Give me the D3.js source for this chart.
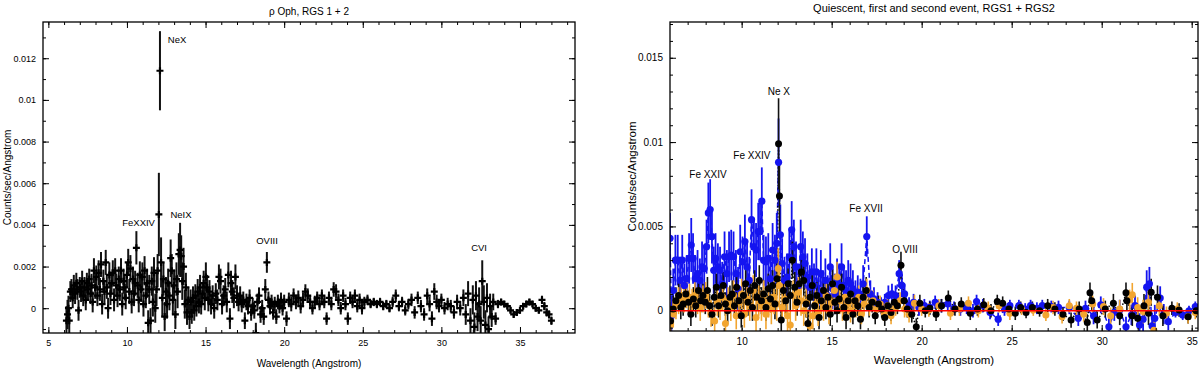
<!DOCTYPE html>
<html>
<head>
<meta charset="utf-8">
<script src="https://cdn.jsdelivr.net/npm/d3@7"></script>
<style>
body { margin: 0; background: #fff; }
svg { display: block; font-family: "Liberation Sans", Arial, sans-serif; }
</style>
</head>
<body>
<svg id="chart" width="1200" height="371"></svg>
<script>
// all fluxes in units of 1e-3 counts/sec/Angstrom, rows are [wavelength, flux, error]
var rhoOphSpectrum = [
    [6.15,-0.6,0.7],[6.22,-0.3,0.7],[6.28,0.0,0.6],[6.33,-0.6,0.6],[6.40,0.8,0.5],[6.47,0.9,0.5],
    [6.55,0.5,0.5],[6.62,1.1,0.5],[6.70,0.7,0.5],[6.78,1.2,0.5],[6.85,0.9,0.5],[6.92,-0.1,0.5],
    [7.00,1.0,0.5],[7.08,0.8,0.5],[7.15,1.3,0.5],[7.22,0.6,0.5],[7.30,1.0,0.5],[7.38,0.4,0.5],
    [7.45,1.2,0.5],[7.52,0.9,0.5],[7.60,1.4,0.5],[7.68,0.7,0.5],[7.75,1.1,0.55],[7.82,0.3,0.5],
    [7.90,1.8,0.6],[7.98,1.0,0.55],[8.05,1.5,0.55],[8.12,0.6,0.5],[8.20,1.7,0.6],[8.28,0.9,0.55],
    [8.35,2.1,0.6],[8.42,0.2,0.5],[8.50,1.3,0.55],[8.57,0.8,0.55],[8.65,2.2,0.6],[8.72,1.0,0.55],
    [8.80,0.0,0.5],[8.88,1.6,0.6],[8.95,0.7,0.55],[9.02,1.2,0.55],[9.10,1.7,0.6],[9.18,0.4,0.55],
    [9.25,1.8,0.6],[9.32,1.1,0.55],[9.40,0.6,0.55],[9.48,1.4,0.6],[9.55,0.9,0.55],[9.62,1.8,0.6],
    [9.70,0.2,0.55],[9.78,1.3,0.6],[9.85,1.0,0.6],[9.92,0.5,0.55],[10.00,1.6,0.6],[10.08,2.2,0.65],
    [10.15,0.8,0.6],[10.22,1.9,0.65],[10.30,0.3,0.55],[10.38,1.4,0.6],[10.45,0.7,0.6],[10.52,1.2,0.6],
    [10.60,2.9,0.8],[10.68,1.1,0.6],[10.75,0.4,0.6],[10.82,1.6,0.65],[10.90,0.9,0.6],[10.98,1.5,0.7],
    [11.05,0.2,0.6],[11.12,1.8,0.7],[11.20,0.6,0.6],[11.28,1.2,0.7],[11.35,-0.7,0.6],[11.42,0.9,0.7],
    [11.50,-0.6,0.6],[11.58,1.3,0.7],[11.65,0.3,0.7],[11.72,1.7,0.75],[11.80,0.0,0.7],[11.88,0.9,0.8],
    [11.95,1.8,0.8],[12.03,4.5,2.0],[12.10,11.4,1.9],[12.17,2.2,1.2],[12.25,0.5,0.9],[12.32,1.4,0.8],
    [12.40,-0.4,0.7],[12.48,0.8,0.7],[12.55,0.2,0.7],[12.62,1.2,0.7],[12.70,0.6,0.7],[12.78,2.4,0.9],
    [12.85,1.8,0.8],[12.92,0.4,0.7],[13.00,1.1,0.75],[13.08,-0.3,0.7],[13.15,1.4,0.8],[13.22,0.8,0.8],
    [13.30,2.6,1.0],[13.38,2.8,1.3],[13.45,2.5,1.0],[13.52,1.3,0.9],[13.60,2.0,0.9],[13.68,0.2,0.7],
    [13.75,1.0,0.7],[13.82,-0.2,0.6],[13.90,0.4,0.6],[13.98,-0.4,0.6],[14.05,0.3,0.6],[14.12,-0.2,0.55],
    [14.20,0.5,0.55],[14.28,-0.1,0.5],[14.35,0.6,0.55],[14.42,0.1,0.5],[14.50,0.8,0.6],[14.58,0.3,0.55],
    [14.65,1.0,0.6],[14.72,0.2,0.5],[14.80,0.7,0.55],[14.88,1.2,0.6],[14.95,0.5,0.6],[15.02,1.5,0.7],
    [15.10,1.0,0.6],[15.18,0.4,0.55],[15.25,0.8,0.55],[15.35,0.2,0.5],[15.45,0.6,0.5],[15.55,0.0,0.5],
    [15.65,0.7,0.5],[15.75,0.4,0.5],[15.85,1.5,0.6],[15.95,1.3,0.6],[16.05,0.2,0.5],[16.15,0.6,0.5],
    [16.25,0.9,0.55],[16.35,0.3,0.5],[16.45,1.6,0.6],[16.55,-0.5,0.5],[16.62,1.2,0.6],[16.70,0.8,0.55],
    [16.80,0.5,0.5],[16.90,1.5,0.6],[17.00,0.6,0.5],[17.10,0.3,0.45],[17.20,0.6,0.45],[17.30,0.2,0.4],
    [17.40,0.4,0.4],[17.50,-0.6,0.4],[17.60,0.3,0.4],[17.70,0.1,0.4],[17.80,0.5,0.4],[17.90,-0.2,0.4],
    [18.00,0.1,0.4],[18.10,-0.1,0.4],[18.20,-1.2,0.5],[18.30,0.3,0.4],[18.40,0.6,0.4],[18.50,-0.3,0.4],
    [18.60,0.0,0.4],[18.70,-0.4,0.4],[18.80,0.9,0.5],[18.90,2.2,0.5],[19.00,0.4,0.4],[19.10,0.1,0.4],
    [19.20,0.3,0.35],[19.30,-0.2,0.35],[19.40,0.2,0.35],[19.50,-0.4,0.35],[19.60,0.3,0.35],[19.70,0.1,0.35],
    [19.80,0.4,0.35],[19.90,0.0,0.35],[20.00,0.3,0.35],[20.15,-0.5,0.35],[20.30,0.4,0.35],[20.45,0.2,0.35],
    [20.60,0.6,0.35],[20.75,0.3,0.35],[20.90,0.5,0.35],[21.05,0.1,0.35],[21.20,0.4,0.35],[21.35,0.8,0.35],
    [21.50,0.6,0.35],[21.65,0.3,0.3],[21.80,0.0,0.3],[21.95,0.3,0.3],[22.10,0.5,0.3],[22.25,0.2,0.3],
    [22.40,0.6,0.3],[22.55,0.3,0.3],[22.70,-0.5,0.3],[22.85,0.5,0.3],[23.00,0.2,0.3],[23.15,0.9,0.35],
    [23.30,0.8,0.35],[23.45,0.4,0.3],[23.60,0.0,0.3],[23.75,0.6,0.3],[23.90,0.2,0.3],[24.05,-0.5,0.3],
    [24.20,0.5,0.3],[24.35,0.3,0.3],[24.50,0.6,0.3],[24.65,0.1,0.3],[24.80,0.4,0.3],[24.95,0.0,0.3],
    [25.10,0.3,0.25],[25.30,0.4,0.25],[25.50,0.2,0.2],[25.70,0.3,0.2],[25.90,0.2,0.2],[26.10,0.3,0.2],
    [26.30,0.1,0.2],[26.50,0.2,0.2],[26.70,0.0,0.2],[26.90,0.3,0.25],[27.10,0.6,0.3],[27.30,0.1,0.25],
    [27.50,0.3,0.25],[27.70,-0.1,0.25],[27.90,0.2,0.25],[28.10,0.4,0.3],[28.30,-0.2,0.3],[28.50,0.5,0.3],
    [28.70,0.1,0.3],[28.90,-0.3,0.3],[29.10,0.6,0.35],[29.25,0.2,0.35],[29.40,-0.5,0.35],[29.55,0.8,0.4],
    [29.70,0.3,0.35],[29.85,0.1,0.3],[30.00,0.4,0.3],[30.20,0.0,0.3],[30.40,0.2,0.3],[30.60,0.1,0.3],
    [30.80,-0.2,0.3],[31.00,0.3,0.35],[31.20,0.0,0.35],[31.40,0.5,0.4],[31.55,-0.3,0.5],[31.70,0.7,0.6],
    [31.85,-0.6,0.6],[32.00,0.4,0.7],[32.10,-0.9,0.7],[32.20,0.6,0.7],[32.30,-0.4,0.7],[32.40,0.2,0.8],
    [32.50,-0.6,0.7],[32.60,1.3,1.0],[32.70,0.3,0.8],[32.80,-0.8,0.7],[32.90,0.5,0.7],[33.00,-1.0,0.6],
    [33.10,0.1,0.6],[33.20,-0.4,0.5],[33.30,0.3,0.4],[33.45,-0.5,0.3],[33.60,0.2,0.2],[33.80,0.3,0.15],
    [34.00,0.2,0.15],[34.20,0.1,0.15],[34.40,-0.1,0.15],[34.60,-0.3,0.15],[34.80,-0.2,0.15],[35.00,-0.1,0.15],
    [35.20,0.1,0.15],[35.40,0.2,0.15],[35.60,0.3,0.15],[35.80,0.2,0.15],[36.00,0.0,0.15],[36.20,-0.1,0.15],
    [36.40,0.4,0.2],[36.55,0.1,0.2],[36.70,-0.2,0.2],[36.85,-0.3,0.2],[37.00,-0.6,0.2]
];

var secondEvent = [
    [6.02,4.3,1.5],[6.10,-0.3,1.2],[6.20,1.2,1.3],[6.32,3.0,1.5],[6.45,3.0,1.5],[6.58,1.8,1.4],
    [6.70,3.0,1.5],[6.82,1.5,1.3],[6.95,1.9,1.4],[7.08,3.1,1.5],[7.20,3.9,1.6],[7.30,3.1,1.5],
    [7.42,1.9,1.4],[7.55,2.2,1.4],[7.68,1.8,1.3],[7.80,2.6,1.5],[7.92,2.5,1.4],[8.05,3.8,1.6],
    [8.15,5.8,1.8],[8.25,6.0,1.8],[8.35,4.4,1.6],[8.45,2.4,1.4],[8.55,3.1,1.5],[8.68,2.6,1.4],
    [8.80,2.4,1.4],[8.92,1.6,1.3],[9.05,3.2,1.5],[9.18,2.2,1.4],[9.30,3.2,1.5],[9.42,3.3,1.5],
    [9.55,3.2,1.5],[9.68,2.2,1.4],[9.80,1.3,1.3],[9.92,3.5,1.6],[10.05,2.9,1.5],[10.18,4.1,1.6],
    [10.30,2.6,1.5],[10.42,1.8,1.4],[10.55,5.4,1.8],[10.68,3.8,1.6],[10.80,3.6,1.6],[10.92,4.7,1.7],
    [11.02,4.7,1.7],[11.12,6.5,2.0],[11.22,3.0,1.5],[11.35,2.9,1.5],[11.48,3.1,1.5],[11.60,1.9,1.4],
    [11.72,3.6,1.6],[11.85,3.0,1.5],[11.95,4.0,1.8],[12.05,8.8,2.6],[12.15,4.5,1.8],[12.25,2.8,1.5],
    [12.38,1.8,1.4],[12.52,2.0,1.4],[12.65,3.2,1.5],[12.78,4.8,1.7],[12.90,3.8,1.6],[13.02,2.6,1.5],
    [13.15,1.5,1.3],[13.28,3.8,1.6],[13.40,3.2,1.5],[13.52,2.8,1.5],[13.65,2.0,1.4],[13.78,1.4,1.3],
    [13.90,2.3,1.4],[14.02,1.5,1.3],[14.15,2.3,1.4],[14.28,0.9,1.2],[14.40,2.2,1.4],[14.52,1.2,1.2],
    [14.65,1.8,1.3],[14.78,0.9,1.2],[14.92,2.6,1.4],[15.05,1.3,1.2],[15.18,1.0,1.2],[15.30,1.8,1.3],
    [15.42,1.5,1.3],[15.55,2.6,1.4],[15.68,1.5,1.2],[15.80,1.2,1.2],[15.92,1.8,1.2],[16.05,1.6,1.2],
    [16.18,1.3,1.1],[16.32,0.8,1.0],[16.45,1.1,1.0],[16.60,0.9,1.0],[16.75,1.6,1.1],[16.95,4.4,1.2],
    [17.15,1.0,0.8],[17.35,0.7,0.7],[17.55,0.5,0.6],[17.75,0.3,0.5],[17.95,0.5,0.5],[18.15,0.9,0.6],
    [18.35,1.0,0.6],[18.55,0.9,0.6],[18.75,2.2,0.8],[18.90,1.5,0.7],[19.05,1.0,0.6],[19.30,0.3,0.5],
    [19.55,0.5,0.5],[19.85,0.2,0.5],[20.15,0.3,0.4],[20.45,0.2,0.4],[20.75,0.5,0.4],[21.10,0.3,0.4],
    [21.45,0.4,0.4],[21.80,0.15,0.4],[22.15,0.1,0.4],[22.50,0.2,0.4],[22.85,0.0,0.4],[23.05,0.55,0.4],
    [23.40,0.3,0.4],[23.80,-0.1,0.4],[24.25,-0.5,0.4],[24.60,0.1,0.4],[24.90,0.3,0.35],[25.40,0.3,0.35],
    [25.75,0.1,0.35],[26.05,0.3,0.35],[26.40,0.15,0.35],[26.70,0.3,0.35],[27.20,0.25,0.35],[27.60,0.2,0.4],
    [28.20,0.2,0.4],[28.70,-0.45,0.45],[29.10,0.15,0.45],[29.55,-0.3,0.5],[29.95,0.35,0.5],[30.40,-0.95,0.5],
    [30.70,-0.1,0.5],[31.00,0.05,0.6],[31.35,-0.95,0.6],[31.65,-0.25,0.6],[31.85,0.3,0.6],[32.10,-0.85,0.7],
    [32.30,-0.5,0.8],[32.50,1.4,1.0],[32.65,1.6,1.0],[32.80,-0.9,0.8],[32.95,-0.45,0.8],[33.25,0.75,0.7],
    [33.45,-0.2,0.6],[33.70,-0.65,0.5],[34.10,-0.1,0.3],[34.50,-0.25,0.3],[34.85,0.0,0.3],[35.20,0.25,0.3]
];

var firstEvent = [
    [6.05,-0.6,0.9],[6.20,0.1,0.8],[6.35,0.6,0.8],[6.50,0.9,0.8],[6.62,0.2,0.7],[6.75,0.4,0.7],
    [6.90,1.0,0.8],[7.05,0.5,0.7],[7.18,-0.2,0.7],[7.32,0.7,0.7],[7.45,0.3,0.7],[7.60,1.2,0.8],
    [7.72,0.6,0.7],[7.85,0.9,0.7],[7.98,0.5,0.7],[8.10,1.2,0.8],[8.22,0.3,0.7],[8.35,-0.2,0.7],
    [8.48,0.8,0.7],[8.60,1.4,0.8],[8.72,0.3,0.7],[8.85,0.9,0.7],[8.98,1.5,0.8],[9.10,0.4,0.7],
    [9.22,0.0,0.7],[9.35,0.8,0.7],[9.48,1.0,0.8],[9.60,0.3,0.7],[9.72,1.4,0.8],[9.85,0.6,0.7],
    [9.98,-0.3,0.7],[10.10,0.9,0.8],[10.22,1.6,0.9],[10.35,0.5,0.8],[10.48,1.2,0.8],[10.60,0.2,0.8],
    [10.72,1.5,0.9],[10.85,0.8,0.8],[10.98,1.8,0.9],[11.10,0.6,0.8],[11.22,1.0,0.8],[11.35,0.2,0.8],
    [11.48,1.3,0.9],[11.60,0.7,0.8],[11.72,1.5,0.9],[11.85,0.4,0.9],[11.97,1.9,1.0],[12.05,9.9,2.7],
    [12.10,6.8,2.2],[12.20,-0.55,0.9],[12.32,1.2,0.9],[12.45,0.6,0.8],[12.58,1.6,0.9],[12.70,0.9,0.9],
    [12.82,3.0,1.1],[12.95,1.4,0.9],[13.08,0.5,0.8],[13.20,1.6,0.9],[13.32,2.3,1.0],[13.45,1.8,1.0],
    [13.58,0.4,0.8],[13.68,-0.75,0.8],[13.80,0.8,0.8],[13.92,1.5,0.9],[14.05,0.3,0.8],[14.18,0.9,0.8],
    [14.30,-0.4,0.7],[14.42,0.6,0.8],[14.55,1.2,0.8],[14.68,0.2,0.7],[14.80,0.8,0.8],[14.92,-0.2,0.7],
    [15.05,1.6,0.9],[15.18,0.5,0.7],[15.30,0.0,0.7],[15.42,0.7,0.7],[15.55,1.4,0.8],[15.68,0.2,0.7],
    [15.80,-0.4,0.7],[15.92,0.6,0.7],[16.05,1.0,0.8],[16.18,-0.2,0.6],[16.30,0.6,0.7],[16.45,0.3,0.6],
    [16.60,-0.5,0.6],[16.75,0.8,0.7],[16.92,1.2,0.8],[17.08,0.2,0.6],[17.25,0.5,0.6],[17.42,-0.3,0.5],
    [17.60,0.4,0.5],[17.78,0.1,0.5],[17.95,-0.4,0.5],[18.12,0.3,0.5],[18.30,-0.1,0.5],[18.48,0.5,0.5],
    [18.65,0.3,0.5],[18.85,2.7,0.8],[19.02,0.6,0.5],[19.20,0.1,0.5],[19.45,-0.2,0.5],[19.70,-0.95,0.5],
    [19.90,0.45,0.5],[20.20,0.0,0.4],[20.45,0.15,0.4],[20.80,-0.2,0.4],[21.10,0.3,0.4],[21.48,0.75,0.45],
    [21.85,0.1,0.4],[22.20,0.4,0.4],[22.70,-0.15,0.4],[23.10,0.1,0.4],[23.45,0.35,0.4],[23.85,0.0,0.4],
    [24.20,0.55,0.4],[24.50,0.45,0.4],[24.85,0.1,0.4],[25.20,-0.15,0.4],[25.50,0.2,0.35],[25.80,-0.1,0.35],
    [26.15,0.2,0.35],[26.55,0.0,0.35],[27.00,0.3,0.4],[27.40,0.1,0.4],[27.85,-0.2,0.4],[28.30,-0.55,0.45],
    [28.75,0.1,0.45],[29.20,-0.7,0.5],[29.35,1.07,0.6],[29.45,0.6,0.55],[29.75,-0.55,0.5],[30.20,0.1,0.5],
    [30.65,0.45,0.55],[31.00,-0.3,0.55],[31.35,1.07,0.6],[31.40,0.6,0.55],[31.70,-0.3,0.6],[32.00,-0.45,0.6],
    [32.35,0.3,0.7],[32.60,-0.15,0.7],[32.75,1.1,0.8],[33.10,0.8,0.7],[33.40,-0.3,0.6],[33.90,0.15,0.4],
    [34.30,0.05,0.4],[34.80,-0.35,0.4],[35.25,0.0,0.4]
];

var quiescent = [
    [6.05,-0.8,0.9],[6.20,-0.2,0.8],[6.35,0.3,0.8],[6.50,0.6,0.8],[6.65,0.9,0.8],[6.80,0.7,0.8],
    [6.94,0.95,0.8],[7.10,0.8,0.8],[7.25,0.5,0.8],[7.40,0.9,0.8],[7.55,0.6,0.8],[7.70,0.2,0.8],
    [7.85,0.7,0.8],[8.00,0.9,0.8],[8.15,0.4,0.8],[8.30,-0.15,0.8],[8.50,-0.6,0.8],[8.65,0.5,0.8],
    [8.80,0.25,0.8],[8.95,0.8,0.8],[9.10,-0.75,0.9],[9.25,0.6,0.8],[9.40,0.2,0.8],[9.55,0.9,0.9],
    [9.70,-0.3,0.8],[9.85,0.5,0.9],[10.00,1.0,0.9],[10.15,-0.2,0.8],[10.30,0.7,0.9],[10.45,0.3,0.9],
    [10.64,1.2,0.9],[10.80,-0.4,0.9],[10.95,0.6,0.9],[11.10,0.3,0.9],[11.22,0.9,0.9],[11.35,-0.2,0.9],
    [11.50,0.5,0.9],[11.65,0.1,0.9],[11.80,0.8,1.0],[11.95,0.4,1.0],[12.03,2.5,1.2],[12.10,1.5,1.1],
    [12.25,0.2,0.9],[12.40,0.7,0.9],[12.55,-0.3,0.9],[12.70,-0.85,0.9],[12.85,0.9,0.9],[13.00,0.3,0.9],
    [13.15,1.1,0.9],[13.30,0.6,0.9],[13.45,0.0,0.9],[13.60,0.5,0.9],[13.80,-0.9,0.9],[13.95,-0.3,0.8],
    [14.10,0.4,0.8],[14.25,-0.1,0.8],[14.40,0.6,0.8],[14.55,0.2,0.8],[14.70,0.9,0.8],[14.85,0.0,0.8],
    [15.00,0.5,0.8],[15.15,1.2,0.8],[15.30,2.0,0.9],[15.45,0.6,0.8],[15.60,0.1,0.7],[15.75,0.8,0.8],
    [15.90,0.4,0.7],[16.05,0.0,0.7],[16.20,0.6,0.7],[16.35,0.3,0.7],[16.50,0.8,0.7],[16.65,-0.2,0.6],
    [16.80,0.4,0.6],[16.95,1.2,0.7],[17.10,0.3,0.6],[17.30,0.6,0.6],[17.50,0.1,0.5],[17.70,0.4,0.5],
    [17.90,-0.1,0.5],[18.10,0.3,0.5],[18.30,-0.3,0.5],[18.55,0.2,0.5],[18.80,0.6,0.5],[19.05,0.1,0.5],
    [19.30,-0.2,0.5],[19.60,0.45,0.5],[20.00,0.1,0.4],[20.40,0.05,0.4],[20.95,0.3,0.4],[21.60,-0.15,0.4],
    [22.10,0.1,0.4],[22.60,0.45,0.4],[23.15,0.0,0.4],[23.70,0.15,0.4],[24.30,0.3,0.4],[24.90,-0.15,0.4],
    [25.55,0.1,0.35],[26.20,0.05,0.35],[26.90,-0.25,0.35],[27.30,0.2,0.4],[27.80,-0.35,0.4],[28.20,0.3,0.4],
    [28.60,0.15,0.4],[29.00,-0.2,0.45],[29.50,0.4,0.5],[30.10,0.25,0.5],[30.50,-0.3,0.5],[31.00,0.1,0.55],
    [31.55,0.65,0.6],[31.70,0.95,0.7],[32.00,0.2,0.6],[32.30,-0.05,0.7],[32.60,0.5,0.7],[32.90,-1.15,0.7],
    [33.20,0.3,0.6],[33.60,-0.15,0.4],[34.20,0.1,0.4],[34.80,-0.35,0.4],[35.20,-0.1,0.4]
];

// line identifications: [label, wavelength, flux] where the text sits
var leftLines = [["NeX",13.19,12.73],["FeXXIV",10.74,3.95],["NeIX",13.44,4.33],["OVIII",18.91,3.09],["CVI",32.40,2.75]];
var rightLines = [["Ne X",12.07,12.79],["Fe XXIV",10.57,9.0],["Fe XXIV",8.13,7.87],["Fe XVII",16.91,5.85],["O VIII",19.07,3.42]];

var svg = d3.select("#chart");

function fmtFlux(v) {
    return String(+(v / 1000).toFixed(4));
}

function drawPanel(p) {
    var x = d3.scaleLinear().domain(p.xDomain).range([p.left, p.right]);
    var y = d3.scaleLinear().domain(p.yDomain).range([p.bottom, p.top]);
    var g = svg.append("g");
    var w = p.right - p.left, h = p.bottom - p.top;

    g.append("clipPath").attr("id", p.id + "-clip")
        .append("rect").attr("x", p.left).attr("y", p.top).attr("width", w).attr("height", h);
    var plot = g.append("g").attr("clip-path", "url(#" + p.id + "-clip)");

    function axis(gen, scale, values, size, labels, transform) {
        var a = gen(scale).tickValues(values).tickSize(-size).tickPadding(p.pad);
        if (labels) a.tickFormat(labels); else a.tickFormat("");
        var ag = g.append("g").attr("transform", transform).call(a);
        ag.select(".domain").remove();
        ag.selectAll("line").attr("stroke", "#000").attr("stroke-width", 1);
        ag.selectAll("text").style("font-size", p.tickFont + "px").attr("fill", "#000");
        ag.attr("font-family", null);
    }
    var xMaj = p.xMajor.filter(function(v) { return v >= p.xDomain[0] && v <= p.xDomain[1]; });
    var xMin = p.xMinor.filter(function(v) { return v >= p.xDomain[0] && v <= p.xDomain[1]; });
    var yMaj = p.yMajor.filter(function(v) { return v >= p.yDomain[0] && v <= p.yDomain[1]; });
    var yMin = p.yMinor.filter(function(v) { return v >= p.yDomain[0] && v <= p.yDomain[1]; });

    axis(d3.axisBottom, x, xMaj, 6, d3.format("d"), "translate(0," + p.bottom + ")");
    axis(d3.axisBottom, x, xMin, 3, null, "translate(0," + p.bottom + ")");
    axis(d3.axisTop, x, xMaj, 6, null, "translate(0," + p.top + ")");
    axis(d3.axisTop, x, xMin, 3, null, "translate(0," + p.top + ")");
    axis(d3.axisLeft, y, yMaj, 6, fmtFlux, "translate(" + p.left + ",0)");
    axis(d3.axisLeft, y, yMin, 3, null, "translate(" + p.left + ",0)");
    axis(d3.axisRight, y, yMaj, 6, null, "translate(" + p.right + ",0)");
    axis(d3.axisRight, y, yMin, 3, null, "translate(" + p.right + ",0)");

    g.append("rect").attr("x", p.left).attr("y", p.top).attr("width", w).attr("height", h)
        .attr("fill", "none").attr("stroke", "#000").attr("stroke-width", 1.3);

    g.append("text").attr("x", (p.left + p.right) / 2).attr("y", p.titleY)
        .attr("text-anchor", "middle").style("font-size", p.titleFont + "px").text(p.title);
    g.append("text").attr("x", (p.left + p.right) / 2).attr("y", p.xLabelY)
        .attr("text-anchor", "middle").style("font-size", p.labelFont + "px").text("Wavelength (Angstrom)");
    g.append("text")
        .attr("transform", "translate(" + p.yLabelX + "," + (p.top + p.bottom) / 2 + ") rotate(-90)")
        .attr("text-anchor", "middle").style("font-size", p.labelFont + "px").text("Counts/sec/Angstrom");

    g.selectAll(".line-id").data(p.lines).enter().append("text")
        .attr("class", "line-id")
        .attr("x", function(d) { return x(d[1]); })
        .attr("y", function(d) { return y(d[2]); })
        .attr("text-anchor", "middle")
        .style("font-size", p.idFont + "px")
        .text(function(d) { return d[0]; });

    return { x: x, y: y, plot: plot };
}

function errorBars(panel, data, color, width) {
    panel.plot.append("g").selectAll("line").data(data).enter().append("line")
        .attr("x1", function(d) { return panel.x(d[0]); })
        .attr("x2", function(d) { return panel.x(d[0]); })
        .attr("y1", function(d) { return panel.y(d[1] - d[2]); })
        .attr("y2", function(d) { return panel.y(d[1] + d[2]); })
        .attr("stroke", color)
        .attr("stroke-width", width);
}

function connect(panel, data, color, dash) {
    var line = d3.line()
        .x(function(d) { return panel.x(d[0]); })
        .y(function(d) { return panel.y(d[1]); });
    panel.plot.append("path").datum(data)
        .attr("d", line)
        .attr("fill", "none")
        .attr("stroke", color)
        .attr("stroke-width", 1.5)
        .attr("stroke-dasharray", dash);
}

function dots(panel, data, color, r) {
    panel.plot.append("g").selectAll("circle").data(data).enter().append("circle")
        .attr("cx", function(d) { return panel.x(d[0]); })
        .attr("cy", function(d) { return panel.y(d[1]); })
        .attr("r", r)
        .attr("fill", color);
}

// left: rho Oph, RGS 1 + 2
var left = drawPanel({
    id: "left", left: 43, right: 575, top: 22, bottom: 333,
    xDomain: [4.66, 38.5], yDomain: [-1.19, 13.74],
    xMajor: d3.range(5, 40, 5), xMinor: d3.range(5, 39, 1),
    yMajor: d3.range(0, 14, 2), yMinor: d3.range(-1, 14, 1),
    pad: 7, tickFont: 9, titleFont: 10, labelFont: 10, idFont: 9.5,
    title: "\u03c1 Oph, RGS 1 + 2", titleY: 15, xLabelY: 367, yLabelX: 11,
    lines: leftLines
});
errorBars(left, rhoOphSpectrum, "#111", 2);
left.plot.append("g").selectAll("path").data(rhoOphSpectrum).enter().append("path")
    .attr("transform", function(d) { return "translate(" + left.x(d[0]) + "," + left.y(d[1]) + ")"; })
    .attr("d", "M-3.5,0H3.5M0,-3.5V3.5")
    .attr("stroke", "#000")
    .attr("stroke-width", 2.2);

// right: quiescent, first and second event
var right = drawPanel({
    id: "right", left: 670, right: 1198, top: 22, bottom: 331,
    xDomain: [6.02, 35.35], yDomain: [-1.2, 17.12],
    xMajor: d3.range(5, 40, 5), xMinor: d3.range(6, 36, 1),
    yMajor: d3.range(0, 20, 5), yMinor: d3.range(-1, 18, 1),
    pad: 7, tickFont: 10, titleFont: 11, labelFont: 11.5, idFont: 10,
    title: "Quiescent, first and second event, RGS1 + RGS2", titleY: 12, xLabelY: 364, yLabelX: 636,
    lines: rightLines
});
connect(right, secondEvent, "#1414f0", "5,3");
connect(right, firstEvent, "#000", "1.5,2");
errorBars(right, secondEvent, "#1414f0", 1.8);
errorBars(right, firstEvent, "#111", 1.6);
errorBars(right, quiescent, "#f2a530", 1.6);
dots(right, secondEvent, "#1414f0", 3.6);
dots(right, quiescent, "#f2a530", 3.5);
dots(right, firstEvent, "#000", 3.5);
right.plot.append("line")
    .attr("x1", right.x(6.02)).attr("x2", right.x(35.35))
    .attr("y1", right.y(0)).attr("y2", right.y(0))
    .attr("stroke", "#f00").attr("stroke-width", 1.6);
</script>
</body>
</html>
